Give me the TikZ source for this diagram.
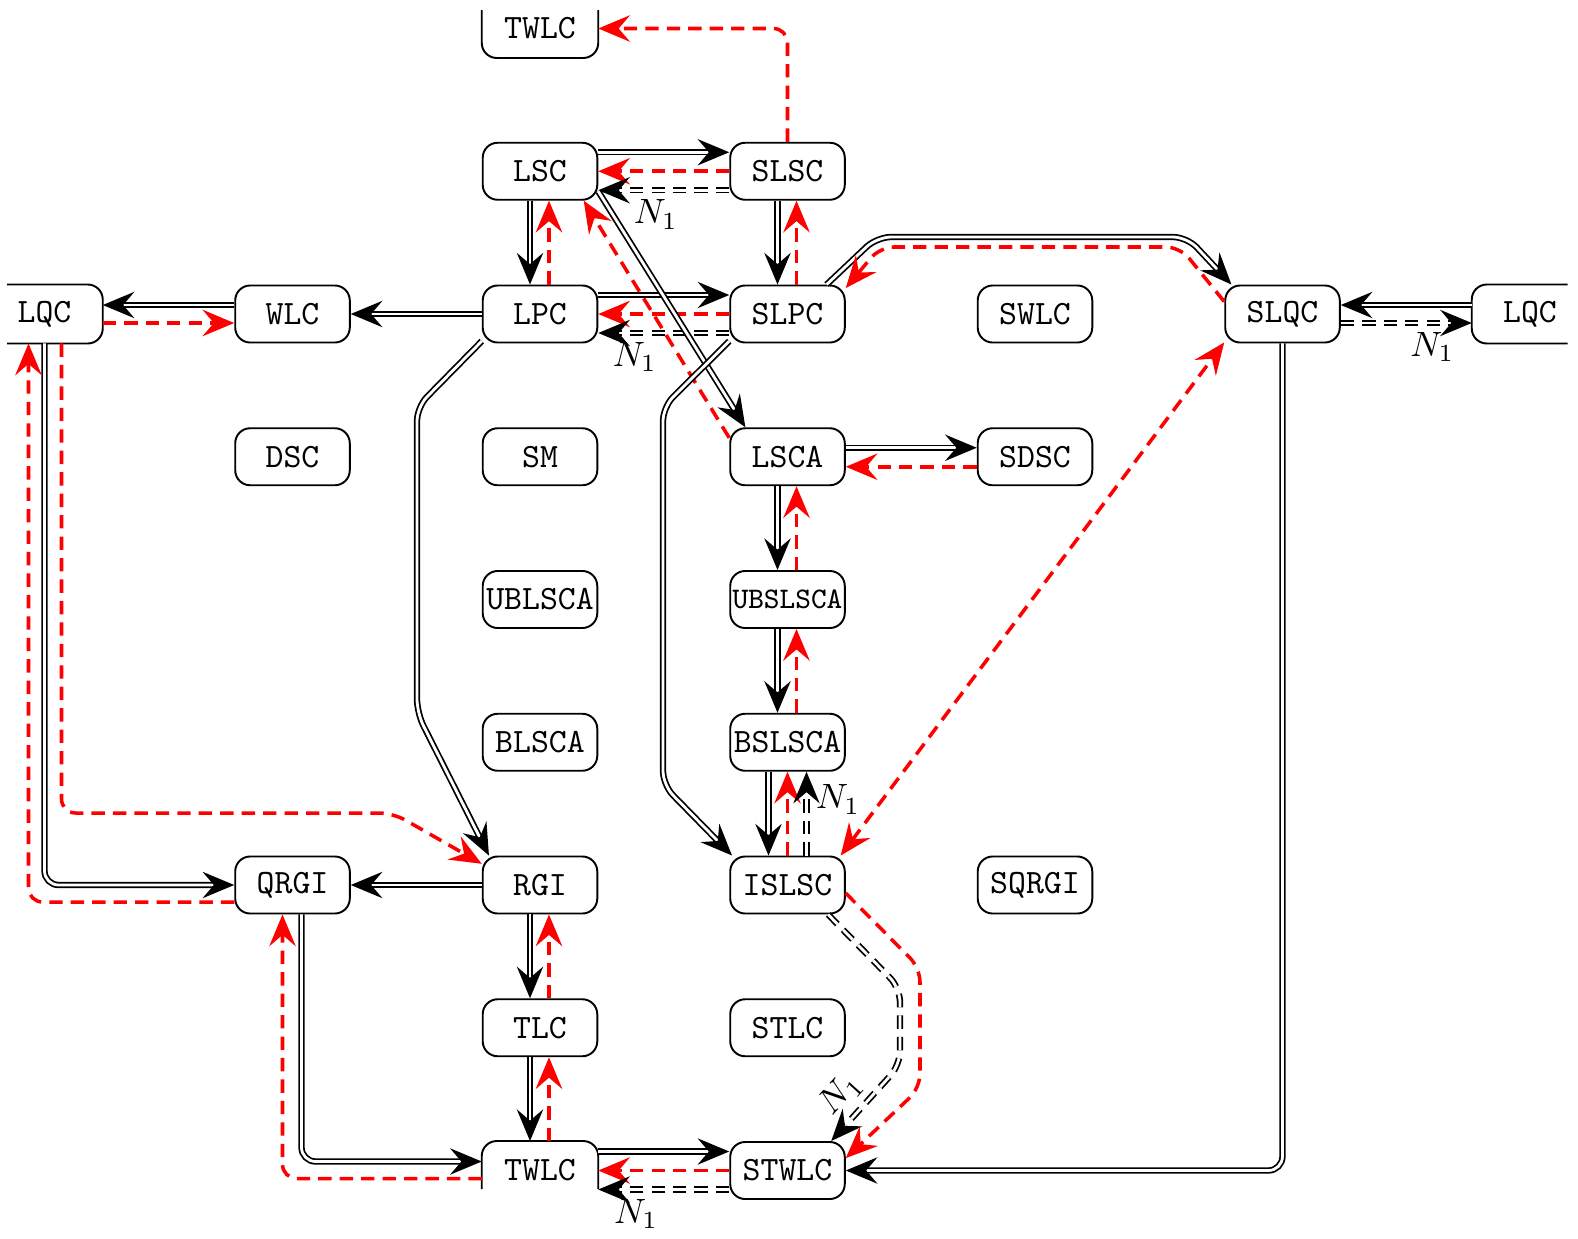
\documentclass[tikz,border=0pt]{standalone}
\usetikzlibrary{arrows.meta,calc}
\begin{document}
\begin{tikzpicture}[x=0.01cm,y=-0.01cm,
  >={Stealth[length=9pt,width=7.5pt,inset=3.2pt]},
  box/.style={draw, line width=0.55pt, rounded corners=0.15cm, minimum width=1.145cm, minimum height=0.57cm, inner sep=0pt, font=\fontsize{9.7}{11}\selectfont\ttfamily},
  ghost/.style={box, draw=none},
  part/.style={line width=0.55pt, rounded corners=0.15cm},
  dbl/.style={draw=black, line width=0.5pt, double=white, double distance=0.8pt, ->},
  rd/.style={draw=red, line width=1pt, dash pattern=on 3.8pt off 2.3pt, ->},
  dd/.style={draw=black, line width=0.5pt, double=white, double distance=0.8pt, dash pattern=on 3.8pt off 2.3pt, ->},
  lbl/.style={font=\fontsize{10}{12}\selectfont, inner sep=2.5pt},
  rc/.style={rounded corners=4pt}]
\useasboundingbox (0,0) rectangle (1578,1239);

% nodes
\node[ghost] (TWt) at (540,28.5) {TWLC};
\node[box] (LSC) at (540,171.25) {LSC};
\node[box] (SLSC) at (787.5,171.25) {SLSC};
\node[ghost] (LQCl) at (44.5,314) {LQC};
\node[box] (WLC) at (292.5,314) {WLC};
\node[box] (LPC) at (540,314) {LPC};
\node[box] (SLPC) at (787.5,314) {SLPC};
\node[box] (SWLC) at (1035,314) {SWLC};
\node[box] (SLQC) at (1282.5,314) {SLQC};
\node[ghost] (LQCr) at (1530,314) {LQC};
\node[box] (DSC) at (292.5,456.75) {DSC};
\node[box] (SM) at (540,456.75) {SM};
\node[box] (LSCA) at (787.5,456.75) {LSCA};
\node[box] (SDSC) at (1035,456.75) {SDSC};
\node[box] (UBLSCA) at (540,599.5) {UBLSCA};
\node[box, font=\fontsize{8.5}{10}\selectfont\ttfamily] (UBSLSCA) at (787.5,599.5) {UBSLSCA};
\node[box] (BLSCA) at (540,742.25) {BLSCA};
\node[box] (BSLSCA) at (787.5,742.25) {BSLSCA};
\node[box] (QRGI) at (292.5,885) {QRGI};
\node[box] (RGI) at (540,885) {RGI};
\node[box] (ISLSC) at (787.5,885) {ISLSC};
\node[box] (SQRGI) at (1035,885) {SQRGI};
\node[box] (TLC) at (540,1027.75) {TLC};
\node[box] (STLC) at (787.5,1027.75) {STLC};
\node[ghost] (TWb) at (540,1170.5) {TWLC};
\node[box] (STWLC) at (787.5,1170.5) {STWLC};

% partial borders
\draw[part] ($(TWt.west)+(0,-18.5)$) -- (TWt.south west) -- (TWt.south east) -- ($(TWt.east)+(0,-18.5)$);
\draw[part] ($(TWb.west)+(0,18.5)$) -- (TWb.north west) -- (TWb.north east) -- ($(TWb.east)+(0,18.5)$);
\draw[part] ($(LQCl.north)+(-37.5,0)$) -- (LQCl.north east) -- (LQCl.south east) -- ($(LQCl.south)+(-37.5,0)$);
\draw[part] ($(LQCr.north)+(37.5,0)$) -- (LQCr.north west) -- (LQCr.south west) -- ($(LQCr.south)+(37.5,0)$);

% LSC - SLSC
\draw[dbl] ($(LSC.east)+(0,-19)$) -- ($(SLSC.west)+(0,-19)$);
\draw[rd] (SLSC.west) -- (LSC.east);
\draw[dd] ($(SLSC.west)+(0,19)$) -- node[lbl, below, pos=0.56] {$N_1$} ($(LSC.east)+(0,19)$);
% verticals LSC/LPC and SLSC/SLPC
\draw[dbl] ($(LSC.south)+(-10,0)$) -- ($(LPC.north)+(-10,0)$);
\draw[rd] ($(LPC.north)+(9,0)$) -- ($(LSC.south)+(9,0)$);
\draw[dbl] ($(SLSC.south)+(-10,0)$) -- ($(SLPC.north)+(-10,0)$);
\draw[rd] ($(SLPC.north)+(9,0)$) -- ($(SLSC.south)+(9,0)$);
% LPC - SLPC
\draw[dbl] ($(LPC.east)+(0,-19)$) -- ($(SLPC.west)+(0,-19)$);
\draw[rd] (SLPC.west) -- (LPC.east);
\draw[dd] ($(SLPC.west)+(0,19)$) -- node[lbl, below, pos=0.72] {$N_1$} ($(LPC.east)+(0,19)$);
% LSC - LSCA diagonals
\draw[dbl] (LSC.-19) -- (LSCA.145);
\draw[rd] (LSCA.162) -- (LSC.-34);
% LSCA - SDSC
\draw[dbl] ($(LSCA.east)+(0,-9)$) -- ($(SDSC.west)+(0,-9)$);
\draw[rd] ($(SDSC.west)+(0,10)$) -- ($(LSCA.east)+(0,10)$);
% LSCA column
\draw[dbl] ($(LSCA.south)+(-10,0)$) -- ($(UBSLSCA.north)+(-10,0)$);
\draw[rd] ($(UBSLSCA.north)+(9,0)$) -- ($(LSCA.south)+(9,0)$);
\draw[dbl] ($(UBSLSCA.south)+(-10,0)$) -- ($(BSLSCA.north)+(-10,0)$);
\draw[rd] ($(BSLSCA.north)+(9,0)$) -- ($(UBSLSCA.south)+(9,0)$);
\draw[dbl] ($(BSLSCA.south)+(-19,0)$) -- ($(ISLSC.north)+(-19,0)$);
\draw[rd] (ISLSC.north) -- (BSLSCA.south);
\draw[dd] ($(ISLSC.north)+(19,0)$) -- node[lbl, right, pos=0.67] {$N_1$} ($(BSLSCA.south)+(19,0)$);
% long bends
\draw[dbl, rc] (LPC.205) -- (417,407) -- (417,713) -- (RGI.150);
\draw[dbl, rc] (SLPC.205) -- (663,407) -- (663,785) -- (ISLSC.152);
\draw[dbl, rc] (SLPC.37) -- (877,237) -- (1187,237) -- (SLQC.150);
\draw[rd, rc] (SLQC.168) -- (1180,247) -- (880,247) -- (SLPC.24);
\draw[rd, <->] (ISLSC.29) -- (SLQC.206);
% LQC - WLC - LPC
\draw[dbl] ($(WLC.west)+(0,-9)$) -- ($(LQCl.east)+(0,-9)$);
\draw[rd] ($(LQCl.east)+(0,9)$) -- ($(WLC.west)+(0,9)$);
\draw[dbl] (LPC.west) -- (WLC.east);
% SLQC - LQC right
\draw[dbl] ($(LQCr.west)+(0,-9)$) -- ($(SLQC.east)+(0,-9)$);
\draw[dd] ($(SLQC.east)+(0,9)$) -- node[lbl, below, pos=0.7] {$N_1$} ($(LQCr.west)+(0,9)$);
% LQC left - QRGI / RGI
\draw[dbl, rc] (LQCl.south) |- (QRGI.west);
\draw[rd, rc] ($(QRGI.west)+(0,17)$) -| ($(LQCl.south)+(-16,0)$);
\draw[rd, rc] ($(LQCl.south)+(17,0)$) |- (393,813) -- (RGI.160);
% RGI row
\draw[dbl] (RGI.west) -- (QRGI.east);
\draw[dbl] ($(RGI.south)+(-10,0)$) -- ($(TLC.north)+(-10,0)$);
\draw[rd] ($(TLC.north)+(9,0)$) -- ($(RGI.south)+(9,0)$);
\draw[dbl] ($(TLC.south)+(-10,0)$) -- ($(TWb.north)+(-10,0)$);
\draw[rd] ($(TWb.north)+(9,0)$) -- ($(TLC.south)+(9,0)$);
\draw[dbl, rc] ($(QRGI.south)+(9,0)$) |- ($(TWb.west)+(0,-9)$);
\draw[rd, rc] ($(TWb.west)+(0,8)$) -| ($(QRGI.south)+(-10,0)$);
% TWLC - STWLC
\draw[dbl] ($(TWb.east)+(0,-19)$) -- ($(STWLC.west)+(0,-19)$);
\draw[rd] (STWLC.west) -- (TWb.east);
\draw[dd] ($(STWLC.west)+(0,19)$) -- node[lbl, below, pos=0.71] {$N_1$} ($(TWb.east)+(0,19)$);
% SLQC - STWLC
\draw[dbl, rc] (SLQC.south) |- (STWLC.east);
% ISLSC - STWLC
\draw[rd, rc] (ISLSC.-8) -- (920,968) -- (920,1088) -- (STWLC.12);
\draw[dd, rc] (ISLSC.-36) -- (900,988) -- (900,1065) -- node[lbl, sloped, above, pos=0.6] {$N_1$} (STWLC.34);
% SLSC - TWLC top
\draw[rd, rc] (SLSC.north) |- (TWt.east);
\end{tikzpicture}
\end{document}
